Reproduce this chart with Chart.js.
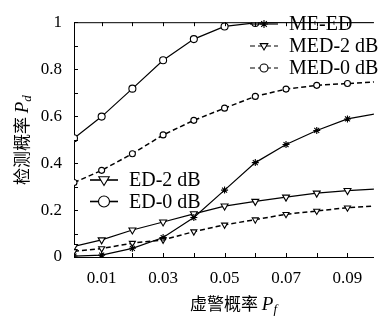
<!DOCTYPE html>
<html>
<head>
<meta charset="utf-8">
<script src="https://cdn.jsdelivr.net/npm/chart.js@4"></script>
<style>
  html, body { margin: 0; padding: 0; background: #fff; }
  #wrap { width: 379px; height: 320px; }
</style>
</head>
<body>
<div id="wrap"><canvas id="grafico" width="379" height="320"></canvas></div>
<script>
// valores
const pf = [0.001, 0.01, 0.02, 0.03, 0.04, 0.05, 0.06, 0.07, 0.08, 0.09, 0.1];
const meEd  = [0.004, 0.008, 0.037, 0.083, 0.168, 0.285, 0.402, 0.479, 0.539, 0.588, 0.612];
const med2  = [0.024, 0.036, 0.059, 0.073, 0.108, 0.137, 0.159, 0.182, 0.196, 0.210, 0.218];
const med0  = [0.317, 0.369, 0.440, 0.520, 0.582, 0.634, 0.684, 0.715, 0.731, 0.739, 0.746];
const ed2   = [0.045, 0.073, 0.115, 0.149, 0.184, 0.217, 0.237, 0.255, 0.272, 0.283, 0.290];
const ed0   = [0.506, 0.598, 0.717, 0.838, 0.928, 0.982, 0.997, 1, 1, 1, 1];

const xTicks = [0.01, 0.02, 0.03, 0.04, 0.05, 0.06, 0.07, 0.08, 0.09];
const xLabels = ['0.01', '0.03', '0.05', '0.07', '0.09'];
const yTicks = [0, 0.1, 0.2, 0.3, 0.4, 0.5, 0.6, 0.7, 0.8, 0.9, 1];
const yLabels = ['0', '0.2', '0.4', '0.6', '0.8', '1'];

const serie = (vals) => pf.map((x, i) => ({ x: x, y: vals[i] }));
const serif = '"Liberation Serif", "DejaVu Serif", serif';
const cjk = '"Noto Sans CJK SC", sans-serif';

const base = (label, vals, style, dashed, rot, r) => ({
    label: label,
    data: serie(vals),
    borderColor: '#000',
    backgroundColor: '#fff',
    borderWidth: dashed ? 1.5 : 1.2,
    borderDash: dashed ? [5, 3] : [],
    pointStyle: style,
    pointRotation: rot,
    pointRadius: ctx => (ctx.raw && ctx.raw.y >= 1) ? 0 : r,
    pointBorderWidth: 1.1,
    pointBorderColor: '#000',
    pointBackgroundColor: '#fff',
    tension: 0
});

const datasets = [
    base('ME-ED', meEd, 'star', false, 0, 3.5),
    base('MED-2 dB', med2, 'triangle', true, 180, 3.5),
    base('MED-0 dB', med0, 'circle', true, 0, 3),
    base('ED-2 dB', ed2, 'triangle', false, 180, 4),
    base('ED-0 dB', ed0, 'circle', false, 0, 3.5)
];

const drawMarker = (ctx, style, rot, r, x, y) => {
    ctx.save();
    ctx.strokeStyle = '#000';
    ctx.fillStyle = '#fff';
    ctx.lineWidth = 1.1;
    ctx.setLineDash([]);
    ctx.beginPath();
    if (style === 'circle') {
        ctx.arc(x, y, r, 0, Math.PI * 2);
        ctx.fill(); ctx.stroke();
    } else if (style === 'triangle') {
        const s = rot === 180 ? -1 : 1;
        ctx.moveTo(x, y - s * r);
        ctx.lineTo(x + r * 0.95, y + s * r * 0.6);
        ctx.lineTo(x - r * 0.95, y + s * r * 0.6);
        ctx.closePath();
        ctx.fill(); ctx.stroke();
    } else {
        for (let k = 0; k < 4; k++) {
            const a = k * Math.PI / 4;
            ctx.moveTo(x - r * Math.cos(a), y - r * Math.sin(a));
            ctx.lineTo(x + r * Math.cos(a), y + r * Math.sin(a));
        }
        ctx.stroke();
    }
    ctx.restore();
};

// marco, marcas hacia adentro, leyendas y titulos
const extras = {
    id: 'extras',
    afterDraw(chart, args, opts) {
        const { ctx, chartArea: a, scales } = chart;
        ctx.save();
        ctx.strokeStyle = '#000';
        ctx.lineWidth = 1;
        ctx.beginPath();
        ctx.moveTo(a.left, a.top + 0.5);
        ctx.lineTo(a.right, a.top + 0.5);
        xTicks.forEach(v => {
            const px = Math.round(scales.x.getPixelForValue(v)) + 0.5;
            ctx.moveTo(px, a.bottom); ctx.lineTo(px, a.bottom - 4);
            ctx.moveTo(px, a.top); ctx.lineTo(px, a.top + 4);
        });
        yTicks.forEach(v => {
            const py = Math.round(scales.y.getPixelForValue(v)) + 0.5;
            ctx.moveTo(a.left, py); ctx.lineTo(a.left + 4, py);
        });
        ctx.stroke();

        // leyendas
        opts.groups.forEach(g => {
            g.items.forEach((idx, j) => {
                const ds = chart.data.datasets[idx];
                const y = g.y + j * g.gap;
                ctx.save();
                ctx.strokeStyle = '#000';
                ctx.lineWidth = g.lw;
                ctx.setLineDash(ds.borderDash.length ? [5, 3] : []);
                ctx.beginPath();
                ctx.moveTo(g.x, y); ctx.lineTo(g.x + g.len, y);
                ctx.stroke();
                ctx.restore();
                drawMarker(ctx, ds.pointStyle, ds.pointRotation, g.r, g.x + g.len / 2, y);
                ctx.fillStyle = '#000';
                ctx.font = '20px ' + serif;
                ctx.textBaseline = 'middle';
                ctx.textAlign = 'left';
                ctx.fillText(ds.label, g.x + g.len + 11, y + 1);
            });
        });

        // titulos de ejes
        const drawTitle = (txt, sub) => {
            ctx.font = '17px ' + cjk;
            const w1 = ctx.measureText(txt).width;
            ctx.font = 'italic 19px ' + serif;
            const w2 = ctx.measureText('P').width;
            ctx.font = 'italic 13px ' + serif;
            const w3 = ctx.measureText(sub).width;
            const total = w1 + w2 + w3 + 1;
            let x0 = -total / 2;
            ctx.textBaseline = 'alphabetic';
            ctx.textAlign = 'left';
            ctx.font = '17px ' + cjk;
            ctx.fillText(txt, x0, 6);
            ctx.font = 'italic 19px ' + serif;
            ctx.fillText('P', x0 + w1, 6);
            ctx.font = 'italic 13px ' + serif;
            ctx.fillText(sub, x0 + w1 + w2, 9);
        };
        ctx.fillStyle = '#000';
        ctx.save();
        ctx.translate(opts.xTitle.x, opts.xTitle.y);
        drawTitle('虚警概率 ', 'f');
        ctx.restore();
        ctx.save();
        ctx.translate(opts.yTitle.x, (a.top + a.bottom) / 2);
        ctx.rotate(-Math.PI / 2);
        drawTitle('检测概率 ', 'd');
        ctx.restore();
        ctx.restore();
    }
};

new Chart(document.getElementById('grafico').getContext('2d'), {
    type: 'line',
    data: { datasets: datasets },
    options: {
        responsive: false,
        animation: false,
        devicePixelRatio: 1,
        layout: { padding: { top: 14, right: 0, left: 0, bottom: 0 } },
        plugins: {
            legend: { display: false },
            tooltip: { enabled: false },
            extras: {
                groups: [
                    { items: [0, 1, 2], x: 250, y: 24, gap: 22, len: 28, r: 4, lw: 1.2 },
                    { items: [3, 4], x: 90, y: 180, gap: 21.5, len: 28, r: 5.5, lw: 1.6 }
                ],
                xTitle: { x: 234, y: 304 },
                yTitle: { x: 22 }
            }
        },
        scales: {
            x: {
                type: 'linear',
                min: 0.001,
                max: 0.0986,
                grid: { display: false, drawTicks: false },
                border: { display: true, color: '#000', width: 1 },
                afterBuildTicks: s => { s.ticks = xTicks.map(v => ({ value: v })); },
                afterFit: s => { s.height = 63; },
                ticks: {
                    padding: 11,
                    color: '#000',
                    maxRotation: 0,
                    autoSkip: false,
                    font: { family: serif, size: 17 },
                    callback: v => {
                        const t = v.toFixed(2);
                        return xLabels.includes(t) ? t : '';
                    }
                }
            },
            y: {
                min: 0,
                max: 1,
                grid: { display: false, drawTicks: false },
                border: { display: true, color: '#000', width: 1 },
                afterBuildTicks: s => { s.ticks = yTicks.map(v => ({ value: v })); },
                afterFit: s => { s.width = 74; },
                ticks: {
                    padding: 12,
                    color: '#000',
                    autoSkip: false,
                    font: { family: serif, size: 17 },
                    callback: v => {
                        const t = String(Math.round(v * 10) / 10);
                        return yLabels.includes(t) ? t : '';
                    }
                }
            }
        }
    },
    plugins: [extras]
});
</script>
</body>
</html>
